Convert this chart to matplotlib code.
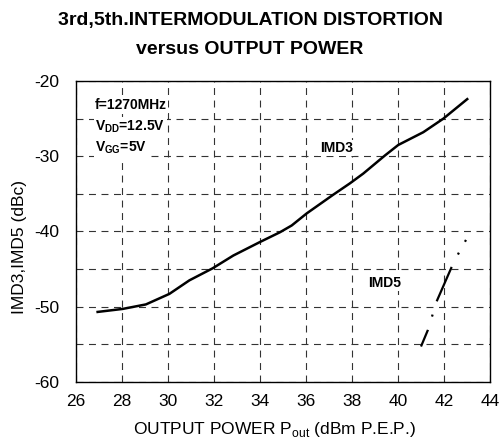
import matplotlib
matplotlib.use("Agg")
import matplotlib.pyplot as plt
import numpy as np

plt.rcParams['font.family'] = ['Liberation Sans', 'DejaVu Sans']
plt.rcParams['mathtext.fontset'] = 'custom'
plt.rcParams['mathtext.rm'] = 'Liberation Sans'
plt.rcParams['mathtext.bf'] = 'Liberation Sans:bold'
plt.rcParams['lines.scale_dashes'] = False
plt.rcParams['axes.unicode_minus'] = False

# IMD3 curve
imd3_x = [26.94, 28.03, 29.04, 30.06, 30.93, 31.94, 32.84, 34.0, 34.87, 35.38,
          36.03, 37.19, 37.91, 38.49, 39.43, 40.01, 41.1, 41.97, 43.01]
imd3_y = [-50.7, -50.3, -49.7, -48.3, -46.5, -44.9, -43.2, -41.4, -40.1, -39.2,
          -37.6, -35.1, -33.6, -32.3, -29.9, -28.5, -26.8, -25.0, -22.4]

# IMD5 curve
imd5_x = [41.0, 41.3, 41.68, 42.33, 42.65, 42.96]
imd5_y = [-55.3, -53.1, -49.3, -44.75, -42.8, -41.1]

xticks = list(range(26, 45, 2))
yticks = [-60, -50, -40, -30, -20]
ygrid = [-55, -45, -35, -25]

fig = plt.figure(figsize=(5.0, 4.43), dpi=100)
ax = fig.add_axes([0.152, 0.138, 0.828, 0.679])

ax.set_xlim(26, 44)
ax.set_ylim(-60, -20)
ax.set_xticks(xticks)
ax.set_yticks(yticks)
ax.set_yticks(ygrid, minor=True)
ax.tick_params(axis='both', which='both', length=0, labelsize=12.5)
ax.tick_params(axis='y', pad=12)
ax.tick_params(axis='x', pad=9)
ax.grid(True, which='both', color='#333333', linewidth=0.8,
        linestyle=(0, (5, 4)))
for s in ax.spines.values():
    s.set_linewidth(1.0)
    s.set_zorder(5)

ax.plot(imd3_x, imd3_y, color='black', linewidth=1.8, zorder=4)
ax.plot(imd5_x, imd5_y, color='black', linewidth=1.6, zorder=4,
        linestyle=(0, (13, 10, 1.5, 10, 27, 10, 1.5, 9, 1.5, 20)))

box = dict(facecolor='white', edgecolor='none', pad=1.0)
small = 10
ax.text(26.83, -23.2, 'f=1270MHz', fontsize=small, fontweight='bold',
        va='center', ha='left', bbox=box, zorder=3)
ax.text(26.83, -26.1, r'V$_{\mathbf{DD}}$=12.5V', fontsize=small,
        fontweight='bold', va='center', ha='left', bbox=box, zorder=3)
ax.text(26.83, -28.9, r'V$_{\mathbf{GG}}$=5V', fontsize=small,
        fontweight='bold', va='center', ha='left', bbox=box, zorder=3)
ax.text(36.6, -28.9, 'IMD3', fontsize=small, fontweight='bold',
        va='center', ha='left', bbox=box, zorder=3)
ax.text(38.7, -46.8, 'IMD5', fontsize=small, fontweight='bold',
        va='center', ha='left', bbox=box, zorder=3)

ax.set_xlabel(r'OUTPUT POWER P$_{\mathrm{out}}$ (dBm P.E.P.)', fontsize=12.5,
              va='center')
ax.xaxis.set_label_coords(0.48, -0.158)
ax.set_ylabel('IMD3,IMD5 (dBc)', fontsize=12.5)
ax.yaxis.set_label_coords(-0.118, 0.45)

fig.text(0.5, 1 - 20 / 443, '3rd,5th.INTERMODULATION DISTORTION',
         ha='center', va='center', fontsize=14, fontweight='bold')
fig.text(0.5, 1 - 49 / 443, 'versus OUTPUT POWER',
         ha='center', va='center', fontsize=14, fontweight='bold')

fig.savefig('out.png', dpi=100)
